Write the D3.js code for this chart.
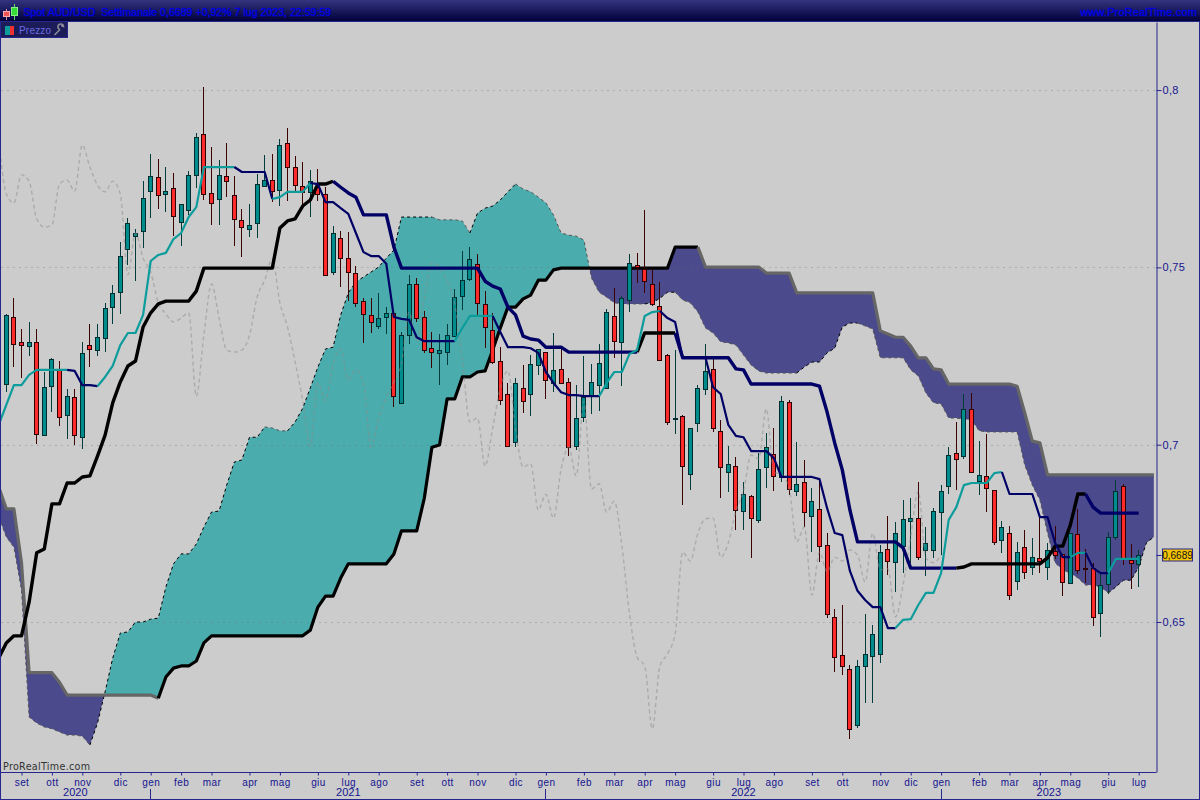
<!DOCTYPE html>
<html>
<head>
<meta charset="utf-8">
<script src="https://cdn.jsdelivr.net/npm/d3@7/dist/d3.min.js"></script>
<style>
html,body{margin:0;padding:0;background:#cccccc;}
svg{display:block;}
text{font-family:"Liberation Sans",Arial,sans-serif;}
</style>
</head>
<body>
<svg id="chart" width="1200" height="800"></svg>
<script>
// ---------- data (weekly AUD/USD candles) ----------
const openPrices = [
.7171,.7360,.7289,.7278,.7289,.7027,.7165,.7214,.7084,.7134,
.7021,.7281,.7267,.7300,.7388,.7430,.7552,.7588,.7602,.7715,
.7755,.7707,.7723,.7628,.7662,.7761,.7876,.7710,.7693,.7758,
.7704,.7634,.7609,.7626,.7729,.7746,.7718,.7851,.7783,.7729,
.7713,.7729,.7707,.7487,.7582,.7526,.7484,.7405,.7366,.7335,
.7360,.7372,.7118,.7309,.7453,.7360,.7272,.7259,.7261,.7306,
.7419,.7467,.7510,.7397,.7323,.7236,.7143,.7007,.7159,.7143,
.7225,.7261,.7174,.7214,.7177,.6996,.7078,.7137,.7168,.7159,
.7363,.7289,.7408,.7507,.7496,.7453,.7391,.7253,.7072,.7081,
.6918,.7061,.7157,.7214,.7039,.6923,.6940,.6813,.6854,.6788,
.6937,.6974,.6909,.7120,.6869,.6895,.6799,.6819,.6717,.6514,
.6407,.6368,.6210,.6376,.6404,.6410,.6706,.6669,.6714,.6785,
.6793,.6703,.6703,.6810,.6884,.6977,.6968,.7101,.6898,.6912,
.6872,.6731,.6750,.6615,.6711,.6655,.6681,.6655,.6700,.6692,
.6610,.6747,.6653,.6653,.6526,.6607,.6741,.6884,.6675,.6664];
const highPrices = [
.7369,.7413,.7327,.7346,.7327,.7205,.7245,.7236,.7157,.7157,
.7289,.7341,.7341,.7400,.7450,.7571,.7639,.7609,.7743,.7820,
.7806,.7783,.7767,.7679,.7772,.7879,.8009,.7839,.7803,.7851,
.7758,.7665,.7679,.7764,.7817,.7820,.7862,.7893,.7814,.7797,
.7775,.7778,.7726,.7617,.7602,.7600,.7504,.7413,.7413,.7428,
.7388,.7372,.7318,.7479,.7470,.7377,.7318,.7312,.7341,.7439,
.7546,.7557,.7538,.7433,.7372,.7275,.7174,.7188,.7225,.7253,
.7270,.7261,.7315,.7270,.7188,.7168,.7250,.7228,.7284,.7383,
.7441,.7419,.7538,.7541,.7662,.7496,.7458,.7256,.7267,.7084,
.7047,.7168,.7284,.7242,.7070,.6996,.6965,.6895,.6857,.6977,
.7033,.7047,.7137,.7126,.7007,.6957,.6878,.6903,.6750,.6537,
.6548,.6379,.6393,.6523,.6492,.6717,.6799,.6782,.6844,.6849,
.6895,.6768,.6821,.6887,.6993,.7064,.7143,.7146,.7010,.7030,
.6872,.6785,.6771,.6726,.6759,.6738,.6796,.6723,.6771,.6692,
.6750,.6819,.6706,.6667,.6636,.6753,.6900,.6890,.6720,.6703];
const lowPrices = [
.7148,.7219,.7188,.7250,.7002,.7025,.7092,.7053,.7016,.6999,
.6988,.7219,.7250,.7261,.7341,.7369,.7507,.7461,.7554,.7639,
.7665,.7656,.7588,.7560,.7648,.7723,.7690,.7620,.7620,.7698,
.7560,.7529,.7585,.7582,.7726,.7684,.7673,.7687,.7715,.7670,
.7642,.7687,.7479,.7479,.7444,.7405,.7388,.7287,.7315,.7327,
.7312,.7106,.7118,.7284,.7346,.7259,.7216,.7168,.7225,.7303,
.7380,.7461,.7360,.7272,.7228,.7112,.6993,.6993,.7090,.7081,
.7197,.7129,.7148,.7174,.6968,.6985,.7064,.7087,.7095,.7157,
.7245,.7165,.7374,.7456,.7428,.7391,.7236,.7056,.7030,.6830,
.6872,.7036,.7140,.7036,.6849,.6867,.6759,.6759,.6681,.6779,
.6878,.6869,.6895,.6857,.6854,.6768,.6697,.6669,.6511,.6359,
.6351,.6170,.6201,.6272,.6272,.6384,.6633,.6584,.6639,.6667,
.6675,.6630,.6681,.6689,.6860,.6872,.6960,.6920,.6857,.6810,
.6717,.6695,.6562,.6590,.6620,.6633,.6639,.6618,.6678,.6573,
.6607,.6636,.6610,.6489,.6458,.6579,.6731,.6661,.6593,.6599];
const closePrices = [
.7366,.7284,.7281,.7289,.7030,.7162,.7242,.7078,.7137,.7027,
.7259,.7270,.7303,.7385,.7428,.7532,.7626,.7597,.7695,.7758,
.7704,.7715,.7645,.7679,.7761,.7867,.7707,.7682,.7761,.7743,
.7637,.7614,.7620,.7735,.7746,.7715,.7845,.7783,.7732,.7713,
.7743,.7707,.7479,.7597,.7526,.7487,.7400,.7369,.7346,.7357,
.7372,.7137,.7309,.7453,.7357,.7267,.7261,.7267,.7309,.7416,
.7464,.7524,.7400,.7332,.7233,.7126,.6996,.7174,.7123,.7228,
.7270,.7182,.7211,.7174,.6993,.7075,.7134,.7177,.7230,.7374,
.7292,.7413,.7513,.7501,.7461,.7397,.7239,.7064,.7075,.6940,
.7047,.7159,.7208,.7047,.6937,.6946,.6816,.6860,.6793,.6931,
.6993,.6912,.7123,.6875,.6890,.6810,.6841,.6714,.6523,.6401,
.6376,.6199,.6376,.6410,.6466,.6697,.6672,.6750,.6791,.6793,
.6683,.6723,.6813,.6869,.6971,.6960,.7101,.6923,.6915,.6878,
.6726,.6768,.6576,.6697,.6641,.6683,.6672,.6703,.6689,.6613,
.6750,.6647,.6650,.6514,.6605,.6741,.6869,.6681,.6667,.6689];
// Line series start one week before the first visible candle.
const tenkan = [.7056,
.7112,.7168,.7168,.7197,.7211,.7211,.7211,.7211,.7211,.7208,
.7168,.7168,.7165,.7191,.7222,.7281,.7315,.7315,.7366,.7518,
.7535,.7541,.7580,.7597,.7642,.7670,.7783,.7783,.7783,.7783,
.7783,.7769,.7769,.7769,.7769,.7693,.7698,.7713,.7713,.7713,
.7738,.7735,.7684,.7684,.7667,.7651,.7597,.7543,.7532,.7532,
.7510,.7360,.7355,.7352,.7303,.7292,.7292,.7292,.7292,.7292,
.7329,.7363,.7363,.7363,.7363,.7318,.7275,.7275,.7275,.7272,
.7259,.7205,.7174,.7148,.7140,.7140,.7137,.7137,.7137,.7174,
.7205,.7205,.7256,.7267,.7363,.7374,.7377,.7357,.7346,.7245,
.7245,.7245,.7245,.7162,.7143,.7056,.7025,.7021,.6982,.6982,
.6982,.6962,.6909,.6909,.6909,.6909,.6909,.6903,.6821,.6751,
.6745,.6644,.6588,.6562,.6542,.6542,.6483,.6483,.6506,.6508,
.6548,.6582,.6582,.6638,.6788,.6824,.6886,.6892,.6892,.6892,
.6920,.6923,.6861,.6861,.6861,.6861,.6796,.6796,.6723,.6683,
.6683,.6695,.6695,.6652,.6638,.6638,.6678,.6678,.6678,.6678];
const kijun = [.6398,
.6441,.6461,.6461,.6556,.6695,.6706,.6833,.6833,.6892,.6892,
.6909,.6912,.6968,.7027,.7118,.7177,.7222,.7236,.7332,.7372,
.7397,.7405,.7405,.7405,.7405,.7433,.7498,.7498,.7498,.7498,
.7498,.7498,.7498,.7498,.7498,.7498,.7611,.7631,.7637,.7673,
.7690,.7735,.7735,.7743,.7726,.7710,.7698,.7648,.7648,.7648,
.7648,.7557,.7498,.7498,.7498,.7498,.7498,.7498,.7498,.7498,
.7498,.7498,.7498,.7461,.7447,.7439,.7388,.7366,.7306,.7298,
.7295,.7275,.7275,.7275,.7261,.7261,.7261,.7261,.7261,.7261,
.7261,.7261,.7261,.7261,.7315,.7315,.7315,.7315,.7315,.7245,
.7245,.7245,.7245,.7245,.7245,.7245,.7214,.7211,.7171,.7171,
.7171,.7171,.7171,.7171,.7171,.7171,.7171,.7165,.7092,.7005,
.6929,.6816,.6726,.6726,.6726,.6726,.6726,.6726,.6709,.6652,
.6652,.6652,.6652,.6652,.6652,.6652,.6655,.6664,.6664,.6664,
.6664,.6664,.6664,.6664,.6664,.6664,.6664,.6681,.6714,.6714,
.6773,.6861,.6861,.6824,.6807,.6807,.6807,.6807,.6807,.6807];
const senkouA = [.6796,
.6740,.6711,.6590,.6232,.6215,.6204,.6199,.6190,.6181,.6181,
.6178,.6153,.6215,.6303,.6398,.6469,.6472,.6500,.6500,.6508,
.6511,.6599,.6664,.6692,.6692,.6720,.6768,.6810,.6813,.6886,
.6951,.6957,.7021,.7021,.7050,.7047,.7039,.7039,.7064,.7103,
.7160,.7219,.7270,.7275,.7366,.7428,.7459,.7473,.7487,.7501,
.7526,.7549,.7642,.7642,.7642,.7642,.7642,.7634,.7634,.7634,
.7631,.7597,.7653,.7667,.7673,.7690,.7713,.7735,.7721,.7713,
.7698,.7682,.7648,.7597,.7591,.7588,.7577,.7470,.7430,.7416,
.7400,.7397,.7397,.7397,.7397,.7400,.7413,.7430,.7430,.7408,
.7400,.7374,.7329,.7315,.7290,.7287,.7281,.7253,.7225,.7208,
.7202,.7202,.7202,.7202,.7202,.7219,.7233,.7233,.7259,.7272,
.7332,.7343,.7343,.7335,.7326,.7245,.7245,.7245,.7245,.7211,
.7194,.7146,.7118,.7115,.7075,.7075,.7072,.7070,.7039,.7036,
.7036,.7036,.7036,.7036,.6943,.6886,.6844,.6751,.6667,.6647,
.6638,.6624,.6604,.6604,.6599,.6582,.6599,.6618,.6618,.6655,
.6723,.6740];
const senkouB = [.6881,
.6819,.6819,.6667,.6357,.6357,.6357,.6357,.6330,.6294,.6294,
.6294,.6294,.6294,.6294,.6294,.6294,.6294,.6294,.6294,.6294,
.6285,.6345,.6370,.6376,.6376,.6390,.6441,.6461,.6461,.6461,
.6461,.6461,.6461,.6461,.6461,.6461,.6461,.6461,.6461,.6461,
.6477,.6542,.6573,.6573,.6624,.6664,.6664,.6664,.6664,.6664,
.6664,.6692,.6757,.6757,.6757,.6849,.6993,.6999,.7129,.7129,
.7191,.7191,.7205,.7208,.7267,.7329,.7388,.7388,.7411,.7422,
.7464,.7464,.7493,.7498,.7498,.7498,.7498,.7498,.7498,.7498,
.7498,.7498,.7498,.7498,.7498,.7498,.7498,.7498,.7557,.7557,
.7557,.7557,.7501,.7501,.7501,.7501,.7501,.7501,.7501,.7501,
.7484,.7484,.7484,.7484,.7428,.7428,.7428,.7428,.7428,.7428,
.7428,.7428,.7428,.7428,.7428,.7321,.7312,.7303,.7303,.7278,
.7245,.7245,.7214,.7211,.7171,.7171,.7171,.7171,.7171,.7171,
.7171,.7171,.7171,.7165,.7090,.7010,.7005,.6915,.6915,.6915,
.6915,.6915,.6915,.6915,.6915,.6915,.6915,.6915,.6915,.6915,
.6915,.6915];
const laggingSpan = [
.7867,.7707,.7682,.7761,.7743,.7637,.7614,.7620,.7735,.7746,
.7715,.7845,.7783,.7732,.7713,.7743,.7707,.7479,.7597,.7526,
.7487,.7400,.7369,.7346,.7357,.7372,.7137,.7309,.7453,.7357,
.7267,.7261,.7267,.7309,.7416,.7464,.7524,.7400,.7332,.7233,
.7126,.6996,.7174,.7123,.7228,.7270,.7182,.7211,.7174,.6993,
.7075,.7134,.7177,.7230,.7374,.7292,.7413,.7513,.7501,.7461,
.7397,.7239,.7064,.7075,.6940,.7047,.7159,.7208,.7047,.6937,
.6946,.6816,.6860,.6793,.6931,.6993,.6912,.7123,.6875,.6890,
.6810,.6841,.6714,.6523,.6401,.6376,.6199,.6376,.6410,.6466,
.6697,.6672,.6750,.6791,.6793,.6683,.6723,.6813,.6869,.6971,
.6960,.7101,.6923,.6915,.6878,.6726,.6768,.6576,.6697,.6641,
.6683,.6672,.6703,.6689,.6613,.6750,.6647,.6650,.6514,.6605,
.6741,.6869,.6681,.6667,.6689];
const priceTicks = [0.65,0.7,0.75,0.8];
const priceTickLabels = ["0,65","0,7","0,75","0,8"];
const lastPrice = 0.6689;
const lastPriceLabel = "0,6689";
const monthWeeks = [2,6,10,15,19,23,27,32,36,41,45,49,54,58,62,67,71,76,80,84,88,93,97,101,106,110,115,119,123,128,132,136,140,145,149];
const monthNames = ["set","ott","nov","dic","gen","feb","mar","apr","mag","giu","lug","ago","set","ott","nov","dic","gen","feb","mar","apr","mag","giu","lug","ago","set","ott","nov","dic","gen","feb","mar","apr","mag","giu","lug"];
const yearNames = ["2020","2021","2022","2023"];
const yearStartWeeks = [19,71,123];
const titleText = "Spot AUD/USD  Settimanale 0,6689 +0,92% 7 lug 2023, 22:59:59";
const siteText = "www.ProRealTime.com";
const brandText = "ProRealTime.com";
const panelText = "Prezzo";

// ---------- layout ----------
const plotLeft = 1, plotRight = 1156.5, plotTop = 22, plotBottom = 772.5;
const svg = d3.select("#chart");
const xS = d3.scaleLinear().domain([0,149]).range([6.3,1138.7]);
const yS = d3.scaleLinear().domain([0.6077,0.8192]).range([772,22]);
const BLUE = "#26268f", AXTXT = "#14148f";
const defs = svg.append("defs");

const grad = defs.append("linearGradient").attr("id","hdr").attr("x1",0).attr("x2",0).attr("y1",0).attr("y2",1);
grad.append("stop").attr("offset",0).attr("stop-color","#34347f");
grad.append("stop").attr("offset",1).attr("stop-color","#00003a");
defs.append("clipPath").attr("id","plot").append("rect")
  .attr("x",plotLeft).attr("y",plotTop).attr("width",plotRight-plotLeft).attr("height",plotBottom-plotTop);

const idx = (a,offset) => a.map((v,i)=>({i:i+offset,v}));
const lineGen = d3.line().x(d=>xS(d.i)).y(d=>yS(d.v));

// Splits a series into runs: rising segments take one colour, falling segments the other, flat keeps the last.
function colourRuns(points, up, down, start){
  const out=[]; let state=start, cur=null;
  for(let k=0;k<points.length-1;k++){
    const a=points[k], b=points[k+1];
    if(b.v>a.v) state=up; else if(b.v<a.v) state=down;
    if(!cur||cur.c!==state){ cur={c:state,pts:[a]}; out.push(cur); }
    cur.pts.push(b);
  }
  return out;
}

svg.append("rect").attr("width",1200).attr("height",800).attr("fill","#cccccc");
const plot = svg.append("g").attr("clip-path","url(#plot)");

// ---------- cloud ----------
const ptsA = idx(senkouA,-1), ptsB = idx(senkouB,-1);
const merged = ptsA.map((p,k)=>({i:p.i,a:p.v,b:ptsB[k].v}));
const aboveB = d3.area().x(d=>xS(d.i)).y0(plotTop-5).y1(d=>yS(d.b));
const belowB = d3.area().x(d=>xS(d.i)).y0(plotBottom+5).y1(d=>yS(d.b));
defs.append("clipPath").attr("id","aboveB").append("path").attr("d",aboveB(merged));
defs.append("clipPath").attr("id","belowB").append("path").attr("d",belowB(merged));
const between = d3.area().x(d=>xS(d.i)).y0(d=>yS(d.b)).y1(d=>yS(d.a));
plot.append("g").attr("clip-path","url(#aboveB)").append("path").attr("d",between(merged)).attr("fill","#4aacac");
plot.append("g").attr("clip-path","url(#belowB)").append("path").attr("d",between(merged)).attr("fill","#4b4a8c");

// ---------- grid ----------
plot.append("g").selectAll("line").data(priceTicks).join("line")
  .attr("x1",plotLeft).attr("x2",plotRight)
  .attr("y1",d=>Math.round(yS(d))+0.5).attr("y2",d=>Math.round(yS(d))+0.5)
  .attr("stroke","rgba(110,110,110,0.32)").attr("stroke-width",1).attr("stroke-dasharray","2,4");

// ---------- cloud edges ----------
colourRuns(ptsA,"#000000","#555555","#555555").forEach(r=>{
  plot.append("path").attr("d",lineGen(r.pts)).attr("fill","none").attr("stroke",r.c)
    .attr("stroke-width",1).attr("stroke-dasharray","3,3");
});
colourRuns(ptsB,"#000000","#666666","#666666").forEach(r=>{
  plot.append("path").attr("d",lineGen(r.pts)).attr("fill","none").attr("stroke",r.c)
    .attr("stroke-width",3.2).attr("stroke-linejoin","round");
});

// ---------- candles ----------
const candles = openPrices.map((o,i)=>({i,o,h:highPrices[i],l:lowPrices[i],c:closePrices[i]}));
const cx = d=>Math.floor(xS(d.i))+0.5;
const cg = plot.append("g").attr("shape-rendering","crispEdges");
cg.selectAll("line").data(candles).join("line")
  .attr("x1",cx).attr("x2",cx)
  .attr("y1",d=>yS(d.h)).attr("y2",d=>yS(d.l))
  .attr("stroke",d=>d.c>=d.o?"#003c3c":"#3c0000").attr("stroke-width",1);
cg.selectAll("rect").data(candles).join("rect")
  .attr("x",d=>cx(d)-2).attr("width",4)
  .attr("y",d=>Math.round(yS(Math.max(d.o,d.c)))+0.5)
  .attr("height",d=>Math.max(1,Math.round(yS(Math.min(d.o,d.c)))-Math.round(yS(Math.max(d.o,d.c)))))
  .attr("fill",d=>d.c>=d.o?"#008c8c":"#ff2a2a")
  .attr("stroke",d=>d.c>=d.o?"#002e2e":"#2e0000").attr("stroke-width",1);

// ---------- lagging span, kijun, tenkan ----------
plot.append("path").attr("d",d3.line().x(d=>xS(d.i)).y(d=>yS(d.v)).curve(d3.curveMonotoneX)(idx(laggingSpan,-1)))
  .attr("fill","none").attr("stroke","rgba(140,140,140,0.5)").attr("stroke-width",1.4).attr("stroke-dasharray","4,3");
colourRuns(idx(kijun,-1),"#000000","#000066","#000000").forEach(r=>{
  plot.append("path").attr("d",lineGen(r.pts)).attr("fill","none").attr("stroke",r.c)
    .attr("stroke-width",3.4).attr("stroke-linejoin","round");
});
colourRuns(idx(tenkan,-1),"#0c9c9c","#000066","#0c9c9c").forEach(r=>{
  plot.append("path").attr("d",lineGen(r.pts)).attr("fill","none").attr("stroke",r.c)
    .attr("stroke-width",2.2).attr("stroke-linejoin","round");
});

// ---------- brand ----------
svg.append("text").attr("x",3).attr("y",770).text(brandText)
  .style("font-family","'DejaVu Sans'").style("font-size","9.6px").style("letter-spacing","0.3px").attr("fill","#333333");

// ---------- right axis ----------
const axR = svg.append("g").attr("transform",`translate(${plotRight},0)`)
  .call(d3.axisRight(yS).tickValues(priceTicks).tickSize(5).tickPadding(1).tickSizeOuter(0)
    .tickFormat((d,i)=>priceTickLabels[i]));
axR.select(".domain").attr("stroke",BLUE);
axR.selectAll(".tick line").attr("stroke",BLUE);
axR.selectAll(".tick text").attr("fill",AXTXT).style("font-size","11px").style("letter-spacing","0.3px");

// ---------- last price flag ----------
const lastY = Math.round(yS(lastPrice))+0.5;
svg.append("line").attr("x1",plotRight).attr("x2",plotRight+5).attr("y1",lastY).attr("y2",lastY).attr("stroke",BLUE);
svg.append("rect").attr("x",1162.5).attr("y",lastY-6.5).attr("width",30).attr("height",12)
  .attr("fill","#f5c406").attr("stroke",BLUE);
svg.append("text").attr("x",1177.5).attr("y",lastY+3.5).attr("text-anchor","middle").text(lastPriceLabel)
  .style("font-size","10px").attr("fill","#111111");

// ---------- bottom axis ----------
const axB = svg.append("g").attr("transform",`translate(0,${plotBottom})`)
  .call(d3.axisBottom(xS).tickValues(monthWeeks).tickSize(3).tickPadding(3).tickSizeOuter(0)
    .tickFormat((d,i)=>monthNames[i]));
axB.select(".domain").remove();
axB.selectAll(".tick line").attr("stroke",BLUE);
axB.selectAll(".tick text").attr("fill",AXTXT).style("font-size","10px").style("letter-spacing","0.4px");
svg.append("line").attr("x1",0).attr("x2",plotRight).attr("y1",plotBottom).attr("y2",plotBottom).attr("stroke",BLUE);

svg.append("g").selectAll("line").data(yearStartWeeks).join("line")
  .attr("x1",d=>Math.floor(xS(d))+0.5).attr("x2",d=>Math.floor(xS(d))+0.5)
  .attr("y1",789).attr("y2",799).attr("stroke",BLUE);
const yearEdges = [0,...yearStartWeeks.map(d=>xS(d)),plotRight];
svg.append("g").selectAll("text").data(yearNames).join("text")
  .attr("x",(d,i)=>(yearEdges[i]+yearEdges[i+1])/2)
  .attr("y",796).attr("text-anchor","middle").text(d=>d)
  .style("font-size","11px").attr("fill",AXTXT);

// ---------- frame ----------
svg.append("rect").attr("x",0.5).attr("y",21.5).attr("width",1199).attr("height",778).attr("fill","none").attr("stroke",BLUE);

// ---------- header ----------
svg.append("rect").attr("x",0).attr("y",0).attr("width",1200).attr("height",21).attr("fill","url(#hdr)");
svg.append("line").attr("x1",0).attr("x2",1200).attr("y1",21.5).attr("y2",21.5).attr("stroke",BLUE);
const icon = svg.append("g").attr("shape-rendering","crispEdges");
icon.append("line").attr("x1",6.5).attr("x2",6.5).attr("y1",9).attr("y2",20).attr("stroke","#e09090");
icon.append("rect").attr("x",3.5).attr("y",11.5).attr("width",6).attr("height",5).attr("fill","#ee5555").attr("stroke","#ffaaaa");
icon.append("line").attr("x1",14.5).attr("x2",14.5).attr("y1",4).attr("y2",20).attr("stroke","#66dd66");
icon.append("rect").attr("x",11.5).attr("y",7.5).attr("width",6).attr("height",8).attr("fill","#33dd33").attr("stroke","#88ee88");
svg.append("text").attr("x",23.5).attr("y",16).text(titleText)
  .style("white-space","pre").style("font-size","10.6px").attr("stroke","#0000e6").attr("stroke-width",0.35).attr("fill","#0000e6");
svg.append("text").attr("x",1197).attr("y",16).attr("text-anchor","end").text(siteText)
  .style("font-size","11px").style("letter-spacing","0.15px").attr("stroke","#0000e6").attr("stroke-width",0.35).attr("fill","#0000e6");

// ---------- price panel tab ----------
svg.append("rect").attr("x",0.5).attr("y",21.5).attr("width",67).attr("height",16).attr("fill","#1c1c58").attr("stroke",BLUE);
svg.append("rect").attr("x",5).attr("y",26).attr("width",5).attr("height",9).attr("fill","#0c9c9c");
svg.append("rect").attr("x",10).attr("y",26).attr("width",4).attr("height",9).attr("fill","#ee3030");
svg.append("text").attr("x",19).attr("y",34).text(panelText)
  .style("font-size","10px").style("letter-spacing","0.2px").attr("fill","#6a6ae6");
svg.append("path").attr("d","M54.5 35 L60 29.5 M60 29.5 A2.8 2.8 0 1 1 63.5 26.5 L61 25.5")
  .attr("fill","none").attr("stroke","#8a8a9a").attr("stroke-width",1.6);
</script>
</body>
</html>
